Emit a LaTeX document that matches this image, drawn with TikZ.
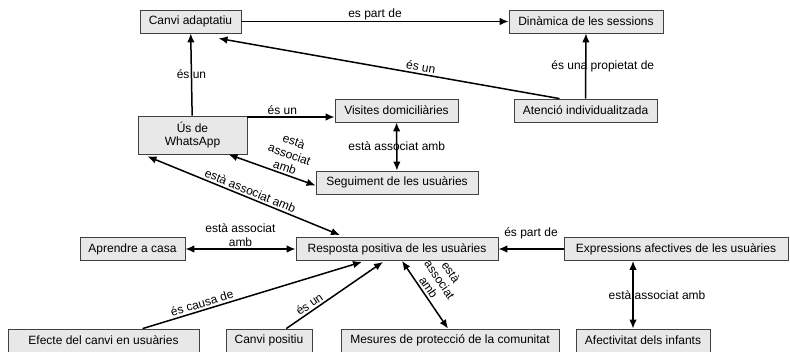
\documentclass[tikz,border=0pt]{standalone}
\usepackage{fontspec}
\setmainfont{Liberation Sans}
\usetikzlibrary{positioning,arrows.meta}

\begin{document}
\begin{tikzpicture}[
		x=1pt, y=-1pt,
		concept/.style={
			draw=black!75,
			fill=black!9,
			line width=0.8pt,
			minimum height=23pt,
			inner sep=2pt,
			font=\fontsize{12}{13}\selectfont
		},
		link/.style={
			line width=1.5pt,
			->
		},
		both/.style={
			line width=1.5pt,
			<->
		},
		lbl/.style={
			font=\fontsize{12}{13.5}\selectfont,
			inner sep=2pt,
			align=center
		},
		>={Latex[length=9pt,width=7.5pt]}
		]
		\useasboundingbox (0,0) rectangle (790,352);
		
		\node[concept, minimum width=101pt] (canvi) at (190.5,21.5) {Canvi adaptatiu};
		\node[concept, minimum width=154pt] (dinamica) at (586,21.5) {Dinàmica de les sessions};
		\node[concept, minimum width=143pt] (atencio) at (585.5,110.5) {Atenció individualitzada};
		\node[concept, minimum width=123pt] (visites) at (396.5,110.5) {Visites domiciliàries};
		\node[concept, minimum width=109pt, minimum height=38pt, align=center] (whatsapp) at (192.5,135) {Ús de\\WhatsApp};
		\node[concept, minimum width=162pt] (seguiment) at (397,182.5) {Seguiment de les usuàries};
		\node[concept, minimum width=105pt] (aprendre) at (132.5,249) {Aprendre a casa};
		\node[concept, minimum width=202pt] (resposta) at (397,249) {Resposta positiva de les usuàries};
		\node[concept, minimum width=224pt] (expressions) at (676,249) {Expressions afectives de les usuàries};
		\node[concept, minimum width=191pt] (efecte) at (103.5,340.5) {Efecte del canvi en usuàries};
		\node[concept, minimum width=86pt] (positiu) at (269,340.5) {Canvi positiu};
		\node[concept, minimum width=218pt] (mesures) at (450,340.5) {Mesures de protecció de la comunitat};
		\node[concept, minimum width=134pt] (afectivitat) at (643,340.5) {Afectivitat dels infants};
		
		% upper part
		\draw[link] (canvi) -- node[lbl, above, inner sep=1pt] {es part de} (dinamica);
		\draw[link] ([xshift=-26pt]atencio.north) -- node[lbl, sloped, above, pos=0.41] {és un} ([xshift=28pt,yshift=-5pt]canvi.south);
		\draw[link] (atencio) -- node[lbl, xshift=17pt] {és una propietat de} (dinamica);
		\draw[link] (whatsapp) -- node[lbl] {és un} (canvi);
		\coordinate (v1) at ([yshift=-6.5pt]visites.west);
		\draw[link] (whatsapp.east |- v1) -- node[lbl, above, pos=0.4] {és un} (v1);
		\draw[both] (visites) -- node[lbl] {està associat amb} (seguiment);
		\draw[both] ([xshift=36pt]whatsapp.south) -- node[lbl, sloped, above, pos=0.62] {està\\associat\\amb} ([yshift=-3pt]seguiment.west);
		\draw[both] ([xshift=-45pt,yshift=-2pt]whatsapp.south) -- node[lbl, sloped, above, pos=0.52] {està associat amb} ([xshift=-57pt,yshift=2pt]resposta.north);
		
		% lower part
		\draw[both] (aprendre) -- node[lbl, above] {està associat\\amb} (resposta);
		\draw[link] (expressions) -- node[lbl, above, yshift=7pt] {és part de} (resposta);
		\draw[link] (efecte) -- node[lbl, sloped, above, pos=0.28] {és causa de} ([xshift=-35pt,yshift=-1pt]resposta.south);
		\draw[link] (positiu) -- node[lbl, sloped, above, pos=0.28] {és un} ([xshift=-14pt,yshift=-1pt]resposta.south);
		\draw[both] ([xshift=5pt]resposta.south) -- node[lbl, sloped, above, pos=0.45] {està\\associat\\amb} ([xshift=-2pt]mesures.north);
		\draw[both] ([xshift=-43pt]expressions.south) -- node[lbl, xshift=24pt] {està associat amb} ([xshift=-10pt]afectivitat.north);
		
\end{tikzpicture}
\end{document}
